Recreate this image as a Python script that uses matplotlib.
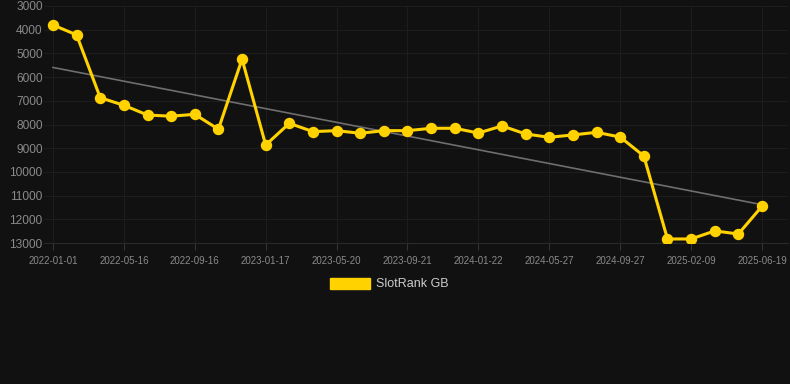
import numpy as np
import matplotlib
matplotlib.use("Agg")
import matplotlib.pyplot as plt
from matplotlib.patches import Patch

# ---- data ----
tick_labels = ["2022-01-01", "2022-05-16", "2022-09-16", "2023-01-17", "2023-05-20",
               "2023-09-21", "2024-01-22", "2024-05-27", "2024-09-27", "2025-02-09",
               "2025-06-19"]
rank_values = [3800, 4220, 6870, 7190, 7600, 7650, 7570, 8200, 5240, 8865,
               7950, 8300, 8260, 8370, 8260, 8260, 8160, 8160, 8360, 8060,
               8400, 8540, 8440, 8330, 8530, 9330, 12830, 12830, 12490, 12620,
               11450]
series_name = "SlotRank GB"
y_ticks = [3000, 4000, 5000, 6000, 7000, 8000, 9000, 10000, 11000, 12000, 13000]

# ---- style ----
bg = "#111111"
gold = "#FFD200"
grid_c = "#1d1d1d"
tick_c = "#8a8a8a"
plt.rcParams['font.family'] = ['Liberation Sans', 'DejaVu Sans']

fig = plt.figure(figsize=(7.9, 3.84), dpi=100, facecolor=bg)
ax = fig.add_axes([44 / 790, (384 - 243) / 384, (788 - 44) / 790, (243 - 6) / 384])
ax.set_facecolor(bg)

x = np.arange(len(rank_values))
# trend line (least squares)
coef = np.polyfit(x, rank_values, 1)
ax.plot(x, np.polyval(coef, x), color="#6e6e6e", lw=1.2, zorder=2)
ax.plot(x, rank_values, color=gold, lw=2.2, marker="o", markersize=7.2,
        markerfacecolor=gold, markeredgecolor=gold, zorder=3)

ax.set_ylim(13000, 3000)
ax.set_xlim(-0.38, 31.1)
ax.set_yticks(y_ticks)
ax.set_yticklabels([str(v) for v in y_ticks])
tick_pos = list(range(0, len(rank_values), 3))
ax.set_xticks(tick_pos)
ax.set_xticklabels(tick_labels)

ax.grid(True, color=grid_c, lw=0.8)
ax.set_axisbelow(True)
for s in ax.spines.values():
    s.set_visible(False)
ax.spines["bottom"].set_visible(True)
ax.spines["bottom"].set_color("#2a2a2a")
ax.spines["bottom"].set_linewidth(0.8)
ax.tick_params(axis="y", length=0, pad=1, labelsize=8.6, labelcolor=tick_c)
ax.tick_params(axis="x", length=5, width=0.8, color="#333333", pad=4,
               labelsize=7, labelcolor=tick_c)

leg = fig.legend(handles=[Patch(facecolor=gold, edgecolor=gold, label=series_name)],
                 loc="center", bbox_to_anchor=(389 / 790, 1 - 284 / 384),
                 frameon=False, handlelength=3.2, handleheight=1.0,
                 handletextpad=0.5, fontsize=9)
for t in leg.get_texts():
    t.set_color("#cccccc")

fig.savefig("out.png", dpi=100, facecolor=bg)
